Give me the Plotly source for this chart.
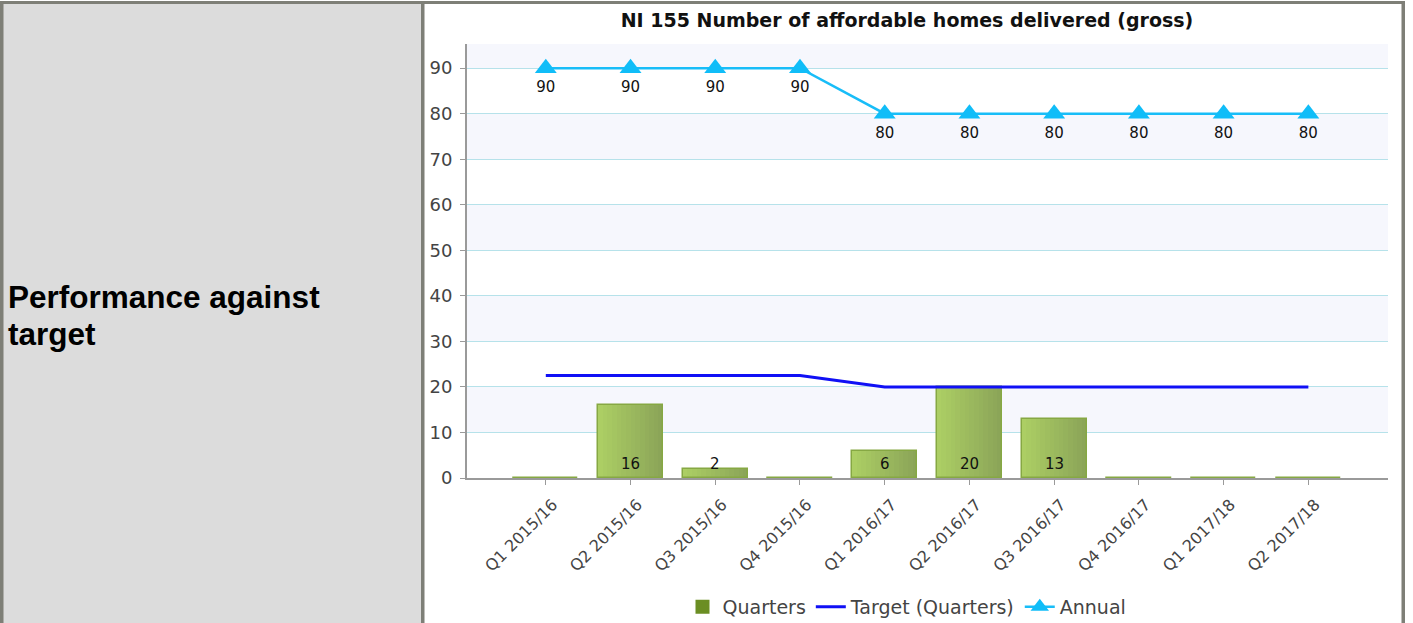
import plotly.graph_objects as go

# ---- data ----
categories = ["Q1 2015/16", "Q2 2015/16", "Q3 2015/16", "Q4 2015/16",
              "Q1 2016/17", "Q2 2016/17", "Q3 2016/17", "Q4 2016/17",
              "Q1 2017/18", "Q2 2017/18"]
quarters = [0, 16, 2, 0, 6, 20, 13, 0, 0, 0]
target_quarters = [22.5, 22.5, 22.5, 22.5, 20, 20, 20, 20, 20, 20]
annual = [90, 90, 90, 90, 80, 80, 80, 80, 80, 80]
y_ticks = [0, 10, 20, 30, 40, 50, 60, 70, 80, 90]

W, H = 1413, 623
L, R, T, B = 467, 1388, 44, 478  # plot area in pixels

def px_x(x):
    return (x - L) / (R - L)

def px_y(y):
    return (B - y) / (B - T)

FONT = "DejaVu Sans"
fig = go.Figure()

# bars drawn as vertical strips so each column shades from light to dark green
bar_w = 0.77
n_strips = 14
c0 = (172, 206, 100)
c1 = (139, 165, 88)
for i in range(n_strips):
    t = i / (n_strips - 1)
    col = "rgb(%d,%d,%d)" % tuple(round(a + (b - a) * t) for a, b in zip(c0, c1))
    fig.add_trace(go.Bar(
        x=categories, y=quarters, width=bar_w / n_strips,
        offset=-bar_w / 2 + i * bar_w / n_strips,
        marker=dict(color=col, line=dict(width=0)),
        showlegend=False, hoverinfo="skip"))
# outline of each bar
fig.add_trace(go.Bar(
    x=categories, y=quarters, width=bar_w, offset=-bar_w / 2,
    marker=dict(color="rgba(0,0,0,0)", line=dict(color="#86A843", width=1.5)),
    showlegend=False, name="Quarters"))

# legend entry for the bars
fig.add_trace(go.Scatter(
    x=[None], y=[None], mode="markers", name="Quarters",
    marker=dict(symbol="square", size=14, color="#6B8E23")))

fig.add_trace(go.Scatter(
    x=categories, y=target_quarters, mode="lines", name="Target (Quarters)",
    line=dict(color="#1010F5", width=3)))

fig.add_trace(go.Scatter(
    x=categories, y=annual, mode="lines+markers+text", name="Annual",
    line=dict(color="#18BDF8", width=2.5),
    marker=dict(symbol="triangle-up", size=19, color="#10BDF8"),
    text=[str(v) for v in annual], textposition="bottom center",
    textfont=dict(family=FONT, size=15, color="#111")))

# value labels at the foot of each bar
for c, v in zip(categories, quarters):
    if v > 0:
        fig.add_annotation(x=c, y=0, text=str(v), showarrow=False,
                           yanchor="middle", yshift=14,
                           font=dict(family=FONT, size=15, color="#111"))

shapes = []
# alternating horizontal bands
for lo in range(10, 100, 20):
    shapes.append(dict(type="rect", xref="paper", yref="y", x0=0, x1=1,
                       y0=lo, y1=min(lo + 10, 95.3), fillcolor="#F6F7FD",
                       line=dict(width=0), layer="below"))

# page table: grey label cell and borders
border = "#7E7F77"
def rect_px(x0, y0, x1, y1, color):
    shapes.append(dict(type="rect", xref="paper", yref="paper",
                       x0=px_x(x0), x1=px_x(x1), y0=px_y(y1), y1=px_y(y0),
                       fillcolor=color, line=dict(width=0), layer="above"))

rect_px(3, 3, 421, 623, "#DCDCDC")
rect_px(0, 1, 1405, 4, border)
rect_px(0, 1, 3.5, 623, border)
rect_px(421, 1, 424.5, 623, border)
rect_px(1401.5, 1, 1405, 623, border)

fig.update_layout(shapes=shapes)

# row heading in the grey cell
for line_text, yc in (("Performance against", 297), ("target", 334)):
    fig.add_annotation(xref="paper", yref="paper", x=px_x(6), y=px_y(yc),
                       xanchor="left", yanchor="middle", align="left",
                       text="<b>%s</b>" % line_text, showarrow=False,
                       font=dict(family="Liberation Sans", size=31.5, color="#000"))

fig.update_layout(
    width=W, height=H, autosize=False,
    margin=dict(l=L, r=W - R, t=T, b=H - B, pad=0, autoexpand=False),
    paper_bgcolor="white", plot_bgcolor="white",
    barmode="overlay", bargap=0,
    title=dict(text="<b>NI 155 Number of affordable homes delivered (gross)</b>",
               x=px_x(907), xref="paper", xanchor="center",
               y=1 - 20 / H, yanchor="middle",
               font=dict(family=FONT, size=19, color="#111")),
    xaxis=dict(type="category", range=[-0.93, 9.94], showgrid=False,
               showline=True, linecolor="#9A9A9A", linewidth=2,
               ticks="outside", ticklen=5, tickcolor="#9A9A9A",
               ticklabelshift=7, ticklabelstandoff=4,
               tickangle=-45, tickfont=dict(family=FONT, size=16, color="#444")),
    yaxis=dict(range=[0, 95.3], tickvals=y_ticks, showgrid=True,
               gridcolor="#B6E2EA", gridwidth=1, zeroline=False,
               showline=True, linecolor="#9A9A9A", linewidth=2,
               ticks="outside", ticklen=5, tickcolor="#9A9A9A",
               ticklabelstandoff=4,
               tickfont=dict(family=FONT, size=18, color="#444")),
    legend=dict(orientation="h", x=px_x(907), xanchor="center",
                y=px_y(607), yanchor="middle",
                font=dict(family=FONT, size=19, color="#444"),
                bgcolor="rgba(0,0,0,0)", itemwidth=30),
)

fig.write_html("out.html")
